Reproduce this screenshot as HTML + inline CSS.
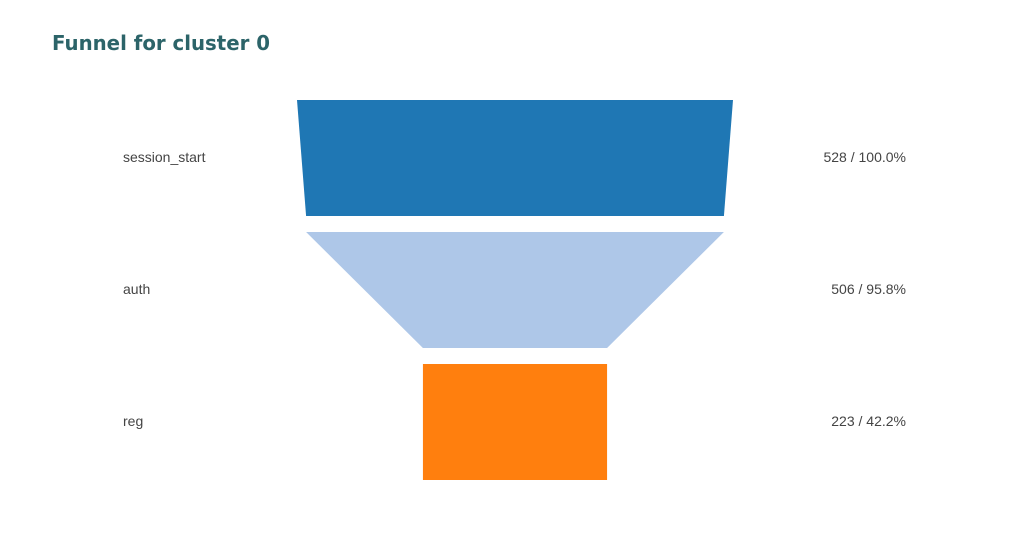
<!DOCTYPE html>
<html><head><meta charset="utf-8"><style>
body{margin:0;background:#fff;}
svg{display:block;font-family:"Liberation Sans",sans-serif;}
</style></head><body>
<svg id="chart" width="1030" height="560">
<rect width="1030" height="560" fill="#fff"/>
<text x="52" y="50" font-family="DejaVu Sans, sans-serif" font-weight="bold" font-size="20" fill="#2c6469" textLength="218" lengthAdjust="spacingAndGlyphs">Funnel for cluster 0</text>
<g id="marks"></g>
</svg>
<script>
const stages = ["session_start","auth","reg"];
const counts = [528,506,223];
const colors = ["#1f77b4","#aec7e8","#ff7f0e"];
const NS="http://www.w3.org/2000/svg";
const cx=515, maxW=436, top0=100, rowH=116, gap=16;
const w = v => v/counts[0]*maxW;
const g=document.getElementById('marks');
for(let i=0;i<stages.length;i++){
  const y0=top0+i*(rowH+gap), y1=y0+rowH;
  const wt=w(counts[i]), wb=w(i+1<counts.length?counts[i+1]:counts[i]);
  const p=document.createElementNS(NS,'polygon');
  p.setAttribute('points',`${cx-wt/2},${y0} ${cx+wt/2},${y0} ${cx+wb/2},${y1} ${cx-wb/2},${y1}`);
  p.setAttribute('fill',colors[i]);
  
  
  g.appendChild(p);
  const l=document.createElementNS(NS,'text');
  l.setAttribute('x',123);l.setAttribute('y',(y0+y1)/2+4);
  l.setAttribute('font-size',14);l.setAttribute('fill','#444');
  l.textContent=stages[i];
  
  
  g.appendChild(l);
  const r=document.createElementNS(NS,'text');
  r.setAttribute('x',906);r.setAttribute('y',(y0+y1)/2+4);
  r.setAttribute('text-anchor','end');
  r.setAttribute('font-size',14);r.setAttribute('fill','#444');
  r.textContent=counts[i]+' / '+(counts[i]/counts[0]*100).toFixed(1)+'%';
  
  
  g.appendChild(r);
}
</script>
</body></html>
